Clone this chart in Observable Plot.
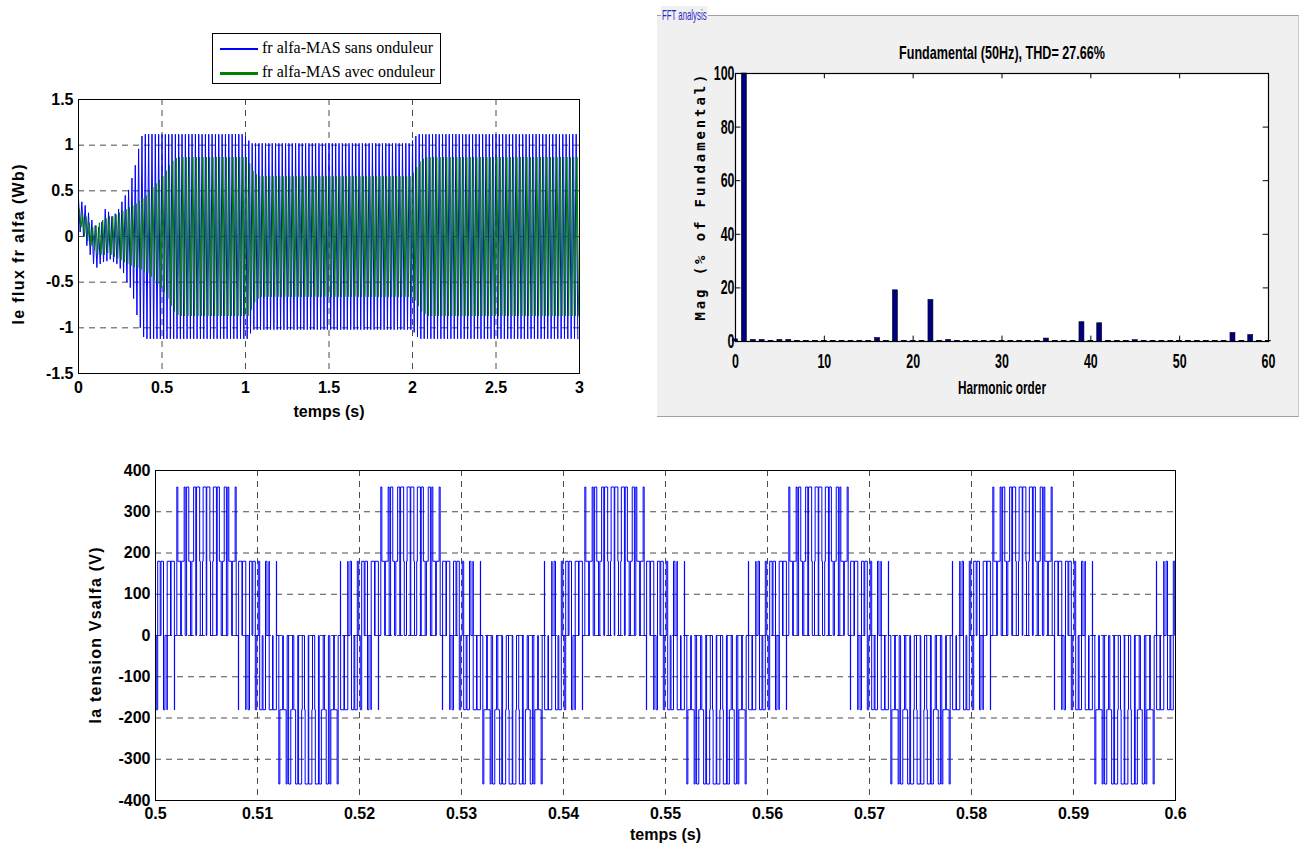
<!DOCTYPE html>
<html><head><meta charset="utf-8">
<script src="https://cdn.jsdelivr.net/npm/d3@7"></script>
<script src="https://cdn.jsdelivr.net/npm/@observablehq/plot@0.6"></script>
<style>
body{margin:0;background:#fff;}
#page{position:relative;width:1305px;height:845px;overflow:hidden;background:#fff;font-family:"Liberation Sans",Arial,sans-serif;}
#page svg{position:absolute;overflow:visible;}
</style></head><body><div id="page"></div>
<script>
// ---------- Top-left: rotor flux alpha (one entry per 50 Hz cycle: positive and negative peak) ----------
const fluxPeriod = 0.02;
const greenShift = 0.005;
const fluxXTicks = [0, 0.5, 1, 1.5, 2, 2.5, 3];
const fluxYTicks = [-1.5, -1, -0.5, 0, 0.5, 1, 1.5];
const seriesNames = ["fr alfa-MAS sans onduleur", "fr alfa-MAS avec onduleur"];
const seriesColors = ["#0000ff", "#008000"];
const blueMax = [
0.42,0.38,0.34,0.26,0.18,0.12,0.10,0.16,0.30,0.27,
0.22,0.25,0.30,0.38,0.45,0.51,0.64,0.78,0.96,1.10,
1.12,1.12,1.12,1.12,1.12,1.12,1.12,1.12,1.12,1.12,
1.12,1.12,1.12,1.12,1.12,1.12,1.12,1.12,1.12,1.12,
1.12,1.12,1.12,1.12,1.12,1.12,1.12,1.12,1.12,1.12,
1.10,1.05,1.02,1.02,1.02,1.02,1.02,1.02,1.02,1.02,
1.02,1.02,1.02,1.02,1.02,1.02,1.02,1.02,1.02,1.02,
1.02,1.02,1.02,1.02,1.02,1.02,1.02,1.02,1.02,1.02,
1.02,1.02,1.02,1.02,1.02,1.02,1.02,1.02,1.02,1.02,
1.02,1.02,1.02,1.02,1.02,1.02,1.02,1.02,1.02,1.02,
1.05,1.10,1.12,1.12,1.12,1.12,1.12,1.12,1.12,1.12,
1.12,1.12,1.12,1.12,1.12,1.12,1.12,1.12,1.12,1.12,
1.12,1.12,1.12,1.12,1.12,1.12,1.12,1.12,1.12,1.12,
1.12,1.12,1.12,1.12,1.12,1.12,1.12,1.12,1.12,1.12,
1.12,1.12,1.12,1.12,1.12,1.12,1.12,1.12,1.12,1.12];
const blueMin = [
0.05,0.00,-0.10,-0.20,-0.30,-0.34,-0.30,-0.28,-0.27,-0.25,
-0.28,-0.30,-0.35,-0.40,-0.50,-0.56,-0.68,-0.86,-1.00,-1.10,
-1.12,-1.12,-1.12,-1.12,-1.12,-1.12,-1.12,-1.12,-1.12,-1.12,
-1.12,-1.12,-1.12,-1.12,-1.12,-1.12,-1.12,-1.12,-1.12,-1.12,
-1.12,-1.12,-1.12,-1.12,-1.12,-1.12,-1.12,-1.12,-1.12,-1.12,
-1.12,-1.06,-1.02,-1.02,-1.02,-1.02,-1.02,-1.02,-1.02,-1.02,
-1.02,-1.02,-1.02,-1.02,-1.02,-1.02,-1.02,-1.02,-1.02,-1.02,
-1.02,-1.02,-1.02,-1.02,-1.02,-1.02,-1.02,-1.02,-1.02,-1.02,
-1.02,-1.02,-1.02,-1.02,-1.02,-1.02,-1.02,-1.02,-1.02,-1.02,
-1.02,-1.02,-1.02,-1.02,-1.02,-1.02,-1.02,-1.02,-1.02,-1.02,
-1.05,-1.10,-1.12,-1.12,-1.12,-1.12,-1.12,-1.12,-1.12,-1.12,
-1.12,-1.12,-1.12,-1.12,-1.12,-1.12,-1.12,-1.12,-1.12,-1.12,
-1.12,-1.12,-1.12,-1.12,-1.12,-1.12,-1.12,-1.12,-1.12,-1.12,
-1.12,-1.12,-1.12,-1.12,-1.12,-1.12,-1.12,-1.12,-1.12,-1.12,
-1.12,-1.12,-1.12,-1.12,-1.12,-1.12,-1.12,-1.12,-1.12,-1.12];
const greenMax = [
0.30,0.25,0.22,0.15,0.10,0.12,0.15,0.18,0.20,0.22,
0.22,0.24,0.26,0.28,0.30,0.32,0.34,0.36,0.39,0.42,
0.45,0.50,0.54,0.58,0.62,0.66,0.72,0.78,0.83,0.86,
0.87,0.87,0.87,0.87,0.87,0.87,0.87,0.87,0.87,0.87,
0.87,0.87,0.87,0.87,0.87,0.87,0.87,0.87,0.87,0.87,
0.87,0.80,0.72,0.68,0.66,0.66,0.66,0.66,0.66,0.66,
0.66,0.66,0.66,0.66,0.66,0.66,0.66,0.66,0.66,0.66,
0.66,0.66,0.66,0.66,0.66,0.66,0.66,0.66,0.66,0.66,
0.66,0.66,0.66,0.66,0.66,0.66,0.66,0.66,0.66,0.66,
0.66,0.66,0.66,0.66,0.66,0.66,0.66,0.66,0.66,0.66,
0.70,0.76,0.82,0.85,0.87,0.87,0.87,0.87,0.87,0.87,
0.87,0.87,0.87,0.87,0.87,0.87,0.87,0.87,0.87,0.87,
0.87,0.87,0.87,0.87,0.87,0.87,0.87,0.87,0.87,0.87,
0.87,0.87,0.87,0.87,0.87,0.87,0.87,0.87,0.87,0.87,
0.87,0.87,0.87,0.87,0.87,0.87,0.87,0.87,0.87,0.87];
const greenMin = [
0.10,0.00,-0.05,-0.10,-0.15,-0.20,-0.20,-0.20,-0.18,-0.20,
-0.22,-0.24,-0.26,-0.28,-0.30,-0.32,-0.33,-0.34,-0.36,-0.38,
-0.40,-0.44,-0.48,-0.52,-0.56,-0.60,-0.68,-0.76,-0.82,-0.86,
-0.87,-0.87,-0.87,-0.87,-0.87,-0.87,-0.87,-0.87,-0.87,-0.87,
-0.87,-0.87,-0.87,-0.87,-0.87,-0.87,-0.87,-0.87,-0.87,-0.87,
-0.87,-0.80,-0.72,-0.68,-0.66,-0.66,-0.66,-0.66,-0.66,-0.66,
-0.66,-0.66,-0.66,-0.66,-0.66,-0.66,-0.66,-0.66,-0.66,-0.66,
-0.66,-0.66,-0.66,-0.66,-0.66,-0.66,-0.66,-0.66,-0.66,-0.66,
-0.66,-0.66,-0.66,-0.66,-0.66,-0.66,-0.66,-0.66,-0.66,-0.66,
-0.66,-0.66,-0.66,-0.66,-0.66,-0.66,-0.66,-0.66,-0.66,-0.66,
-0.70,-0.76,-0.82,-0.85,-0.87,-0.87,-0.87,-0.87,-0.87,-0.87,
-0.87,-0.87,-0.87,-0.87,-0.87,-0.87,-0.87,-0.87,-0.87,-0.87,
-0.87,-0.87,-0.87,-0.87,-0.87,-0.87,-0.87,-0.87,-0.87,-0.87,
-0.87,-0.87,-0.87,-0.87,-0.87,-0.87,-0.87,-0.87,-0.87,-0.87,
-0.87,-0.87,-0.87,-0.87,-0.87,-0.87,-0.87,-0.87,-0.87,-0.87];

// ---------- Top-right: FFT of the inverter voltage (index = harmonic order 0..60) ----------
const fftTitle = "Fundamental (50Hz), THD= 27.66%";
const fftXTicks = [0, 10, 20, 30, 40, 50, 60];
const fftYTicks = [0, 20, 40, 60, 80, 100];
const fftMag = [
0.8,100,0.6,0.6,0.25,0.6,0.6,0.25,0.25,0.25,
0.25,0.25,0.25,0.25,0.25,0.25,1.3,0.25,19.1,0.25,
0.25,0.25,15.5,0.25,0.6,0.25,0.25,0.25,0.25,0.25,
0.25,0.25,0.25,0.25,0.25,1.1,0.25,0.25,0.25,7.2,
0.25,6.8,0.25,0.25,0.25,0.5,0.25,0.25,0.25,0.25,
0.25,0.25,0.25,0.25,0.25,0.25,3.2,0.25,2.4,0.25,
0.25];

// ---------- Bottom: inverter phase voltage Vs alpha ----------
const vXTicks = [0.5, 0.51, 0.52, 0.53, 0.54, 0.55, 0.56, 0.57, 0.58, 0.59, 0.6];
const vYTicks = [-400, -300, -200, -100, 0, 100, 200, 300, 400];
const vCycleStarts = [0.5, 0.52, 0.54, 0.56, 0.58];
const vEnd = 0.6;
// switching instants inside one 20 ms fundamental period: [ms, level in V]
const vSwitches = [
[0,0],[0.075,-180],[0.215,180],[0.46,0],[0.54,180],[0.785,-180],[0.925,0],
[1.1275,-180],[1.148,180],[1.475,0],[1.525,180],[1.852,-180],[1.8725,0],
[2.091,360],[2.1915,180],[2.4675,0],[2.5325,180],[2.8085,360],[2.909,0],
[3.0495,360],[3.2615,180],[3.439,0],[3.561,180],[3.7385,360],[3.9505,0],
[4.0275,360],[4.3305,180],[4.3915,0],[4.6085,180],[4.6695,360],[4.9725,0],
[5.0275,360],[5.3305,180],[5.3915,0],[5.6085,180],[5.6695,360],[5.9725,0],
[6.0495,360],[6.2615,180],[6.439,0],[6.561,180],[6.7385,360],[6.9505,0],
[7.091,360],[7.1915,180],[7.4675,0],[7.5325,180],[7.8085,360],[7.909,0],
[8.1275,-180],[8.148,180],[8.475,0],[8.525,180],[8.852,-180],[8.8725,0],
[9.075,-180],[9.215,180],[9.46,0],[9.54,180],[9.785,-180],[9.925,0],
[10.075,180],[10.215,-180],[10.46,0],[10.54,-180],[10.785,180],[10.925,0],
[11.1275,180],[11.148,-180],[11.475,0],[11.525,-180],[11.852,180],[11.8725,0],
[12.091,-360],[12.1915,-180],[12.4675,0],[12.5325,-180],[12.8085,-360],[12.909,0],
[13.0495,-360],[13.2615,-180],[13.439,0],[13.561,-180],[13.7385,-360],[13.9505,0],
[14.0275,-360],[14.3305,-180],[14.3915,0],[14.6085,-180],[14.6695,-360],[14.9725,0],
[15.0275,-360],[15.3305,-180],[15.3915,0],[15.6085,-180],[15.6695,-360],[15.9725,0],
[16.0495,-360],[16.2615,-180],[16.439,0],[16.561,-180],[16.7385,-360],[16.9505,0],
[17.091,-360],[17.1915,-180],[17.4675,0],[17.5325,-180],[17.8085,-360],[17.909,0],
[18.1275,180],[18.148,-180],[18.475,0],[18.525,-180],[18.852,180],[18.8725,0],
[19.075,180],[19.215,-180],[19.46,0],[19.54,-180],[19.785,180],[19.925,0]];

const page = document.getElementById("page");
function put(el, left, top){ el.style.left = left + "px"; el.style.top = top + "px"; page.appendChild(el); return el; }
function fitText(svg, content, length, adjust){
  d3.select(svg).selectAll("text").filter(function(){ return this.textContent === content; })
    .attr("textLength", length).attr("lengthAdjust", adjust);
}
const matFont = "'Liberation Sans', Arial, Helvetica, sans-serif";
const gridStyle = {stroke: "#000", strokeOpacity: 0.7, strokeDasharray: "6,5", strokeWidth: 1};

// ===== Panel 1 =====
const blueData = blueMax.flatMap((mx, i) => [{t: i * fluxPeriod, v: mx}, {t: i * fluxPeriod + fluxPeriod / 2, v: blueMin[i]}]);
const greenData = greenMax.flatMap((mx, i) => [{t: i * fluxPeriod + greenShift, v: mx}, {t: i * fluxPeriod + fluxPeriod / 2 + greenShift, v: greenMin[i]}]);
const p1 = Plot.plot({
  width: 600, height: 430,
  marginLeft: 78, marginTop: 99, marginRight: 21, marginBottom: 57,
  style: {fontFamily: matFont, fontSize: "16px", fontWeight: "bold", color: "#000", background: "transparent", overflow: "visible"},
  x: {domain: [0, 3], ticks: fluxXTicks, tickFormat: d => String(d), tickSize: 0, tickPadding: 8, label: null},
  y: {domain: [-1.5, 1.5], ticks: fluxYTicks, tickFormat: d => String(d), tickSize: 0, tickPadding: 5, label: null},
  marks: [
    Plot.ruleX(fluxXTicks, gridStyle),
    Plot.ruleY(fluxYTicks, gridStyle),
    Plot.line(blueData, {x: "t", y: "v", stroke: seriesColors[0], strokeWidth: 1, clip: true}),
    Plot.line(greenData, {x: "t", y: "v", stroke: seriesColors[1], strokeWidth: 1, clip: true}),
    Plot.frame({stroke: "#000", strokeWidth: 1}),
    Plot.text(["temps (s)"], {text: d => d, frameAnchor: "bottom", dy: 43, fontSize: 16, fontWeight: "bold"}),
    Plot.text(["le flux fr alfa (Wb)"], {text: d => d, frameAnchor: "left", dx: -60, dy: 8, rotate: -90, textAnchor: "middle", fontSize: 16, fontWeight: "bold"})
  ]
});
put(p1, 0, 0);
fitText(p1, "le flux fr alfa (Wb)", 160, "spacing");

// legend (HTML)
const leg = document.createElement("div");
leg.style.cssText = "position:absolute;width:227px;height:49px;border:1px solid #000;background:#fff;font-family:'Liberation Serif','Times New Roman',serif;font-size:16px;";
seriesNames.forEach((name, i) => {
  const row = document.createElement("div");
  row.style.cssText = `position:absolute;left:7px;top:${4 + i * 24}px;height:20px;white-space:nowrap;line-height:20px;`;
  const sw = document.createElement("span");
  sw.style.cssText = `display:inline-block;width:38px;height:${i === 0 ? 2 : 3}px;background:${seriesColors[i]};vertical-align:middle;margin-right:4px;`;
  row.appendChild(sw);
  row.appendChild(document.createTextNode(name));
  leg.appendChild(row);
});
put(leg, 212, 33);

// ===== Panel 2 (FFT) =====
const box = document.createElement("div");
box.style.cssText = "position:absolute;width:641px;height:400px;background:#f0f0f0;border-top:1px solid #a0a0a0;border-bottom:1px solid #a0a0a0;border-right:1px solid #c8c8c8;";
put(box, 657, 15);
const boxLabel = document.createElement("div");
boxLabel.textContent = "FFT analysis";
boxLabel.style.cssText = "position:absolute;font-family:'Liberation Sans',Arial,sans-serif;font-size:15px;color:#2828c8;background:#f0f0f0;padding:0 2px;line-height:17px;transform:scaleX(0.52);transform-origin:0 0;";
put(boxLabel, 661, 6);

const fftData = fftMag.map((m, h) => ({h, m}));
const p2 = Plot.plot({
  width: 641, height: 401,
  marginLeft: 78, marginTop: 57, marginRight: 30, marginBottom: 76,
  style: {fontFamily: matFont, fontSize: "20px", fontWeight: "bold", color: "#000", background: "transparent", overflow: "visible"},
  x: {domain: [0, 60], ticks: fftXTicks, tickFormat: d => String(d), tickSize: 0, tickPadding: 12, label: null},
  y: {domain: [0, 100], ticks: fftYTicks, tickFormat: d => String(d), tickSize: 0, tickPadding: 1, label: null},
  marks: [
    Plot.frame({fill: "#fff", stroke: null}),
    Plot.rectY(fftData, {x1: d => d.h - 0.28, x2: d => d.h + 0.28, y1: 0, y2: "m", fill: "#00007c", stroke: "#000028", strokeWidth: 0.6}),
    Plot.ruleX(fftXTicks, {y1: 0, y2: 2, stroke: "#000"}),
    Plot.ruleX(fftXTicks, {y1: 98, y2: 100, stroke: "#000"}),
    Plot.ruleY(fftYTicks, {x1: 0, x2: 0.6, stroke: "#000"}),
    Plot.ruleY(fftYTicks, {x1: 59.4, x2: 60, stroke: "#000"}),
    Plot.frame({stroke: "#000", strokeWidth: 1.2}),
    Plot.text([fftTitle], {text: d => d, frameAnchor: "top", dy: -28, fontSize: 19, fontWeight: "bold"}),
    Plot.text(["Harmonic order"], {text: d => d, frameAnchor: "bottom", dy: 52, fontSize: 19, fontWeight: "bold"}),
    Plot.text(["Mag (% of Fundamental)"], {text: d => d, frameAnchor: "left", dx: -35, dy: -10, rotate: -90, textAnchor: "middle", fontSize: 14, fontWeight: "bold", fontFamily: "'DejaVu Sans Mono', monospace"})
  ]
});
put(p2, 657, 16);
// condensed look of the FFT tool's font
d3.select(p2).selectAll("text").each(function(){
  if (this.textContent === "Mag (% of Fundamental)") return;
  const L = this.getComputedTextLength();
  if (L > 0) { this.setAttribute("textLength", (L * 0.62).toFixed(1)); this.setAttribute("lengthAdjust", "spacingAndGlyphs"); }
});
fitText(p2, fftTitle, 206, "spacingAndGlyphs");
fitText(p2, "Harmonic order", 88, "spacingAndGlyphs");
fitText(p2, "Mag (% of Fundamental)", 246, "spacing");

// ===== Panel 3 (voltage) =====
const vData = vCycleStarts.flatMap(s => vSwitches.map(([ms, lv]) => ({t: s + ms / 1000, v: lv})));
vData.push({t: vEnd, v: vSwitches[vSwitches.length - 1][1]});
const p3 = Plot.plot({
  width: 1305, height: 405,
  marginLeft: 155, marginTop: 30, marginRight: 130, marginBottom: 45,
  style: {fontFamily: matFont, fontSize: "16px", fontWeight: "bold", color: "#000", background: "transparent", overflow: "visible"},
  x: {domain: [0.5, 0.6], ticks: vXTicks, tickFormat: d => String(d), tickSize: 0, tickPadding: 7, label: null},
  y: {domain: [-400, 400], ticks: vYTicks, tickFormat: d => String(d), tickSize: 0, tickPadding: 5, label: null},
  marks: [
    Plot.ruleX(vXTicks, gridStyle),
    Plot.ruleY(vYTicks, gridStyle),
    Plot.line(vData, {x: "t", y: "v", stroke: "#0000ff", strokeWidth: 1, curve: "step-after", clip: true}),
    Plot.frame({stroke: "#000", strokeWidth: 1}),
    Plot.text(["temps (s)"], {text: d => d, frameAnchor: "bottom", dy: 39, fontSize: 16, fontWeight: "bold"}),
    Plot.text(["la tension Vsalfa (V)"], {text: d => d, frameAnchor: "left", dx: -60, rotate: -90, textAnchor: "middle", fontSize: 16, fontWeight: "bold"})
  ]
});
put(p3, 0, 440);
fitText(p3, "la tension Vsalfa (V)", 176, "spacing");
</script></body></html>
